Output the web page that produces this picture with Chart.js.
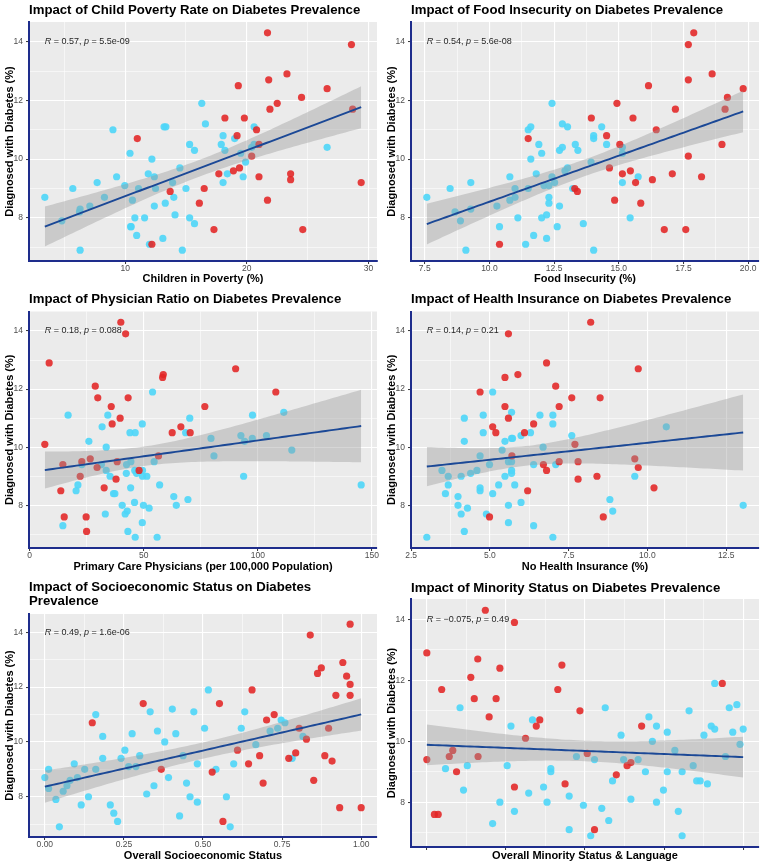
<!DOCTYPE html>
<html><head><meta charset="utf-8">
<script src="https://cdn.jsdelivr.net/npm/chart.js@4.4.1/dist/chart.umd.min.js"></script>
<style>
html,body{margin:0;padding:0;background:#fff;}
body{width:764px;height:866px;position:relative;overflow:hidden;}
.panel{position:absolute;}
</style></head><body>
<div class="panel" style="left:0;top:0;width:382px;height:287px"><canvas id="c1"></canvas></div>
<div class="panel" style="left:382px;top:0;width:382px;height:287px"><canvas id="c2"></canvas></div>
<div class="panel" style="left:0;top:287px;width:382px;height:290px"><canvas id="c3"></canvas></div>
<div class="panel" style="left:382px;top:287px;width:382px;height:290px"><canvas id="c4"></canvas></div>
<div class="panel" style="left:0;top:577px;width:382px;height:289px"><canvas id="c5"></canvas></div>
<div class="panel" style="left:382px;top:577px;width:382px;height:289px"><canvas id="c6"></canvas></div>
<script>
// ---------- DATA ----------
const yTicks = [8, 10, 12, 14];
const yMinor = [7, 9, 11, 13];
const yTickLabels = ['8', '10', '12', '14'];

// Child poverty (%) vs diabetes (%)
const povertyRed = [[21.7,14.3],[28.6,13.9],[23.3,12.9],[21.8,12.7],[19.3,12.5],[26.6,12.4],[24.5,12.1],[22.5,11.9],[21.9,11.7],[28.7,11.7],[18.2,11.4],[19.8,11.4],[11.0,10.7],[19.2,10.8],[20.8,11.0],[21.0,10.5],[20.4,10.1],[17.7,9.5],[18.9,9.6],[19.4,9.7],[21.0,9.4],[23.6,9.5],[23.6,9.3],[29.4,9.2],[16.5,9.0],[13.7,8.9],[16.1,8.5],[21.7,8.6],[17.3,7.6],[24.6,7.6],[12.2,7.1]];
const povertyBlue = [[16.3,11.9],[9.0,11.0],[13.2,11.1],[13.35,11.1],[16.6,11.2],[20.6,11.1],[18.05,10.8],[19.0,10.7],[10.4,10.2],[15.3,10.5],[15.7,10.3],[17.9,10.5],[18.2,10.3],[20.4,10.4],[20.6,10.5],[19.5,10.2],[26.6,10.4],[12.2,10.0],[14.5,9.7],[19.9,9.9],[9.3,9.4],[11.9,9.5],[12.4,9.4],[18.4,9.5],[19.7,9.4],[7.7,9.2],[9.97,9.1],[13.9,9.2],[18.05,9.2],[5.7,9.0],[11.1,9.0],[12.5,9.0],[15.0,9.0],[3.4,8.7],[8.3,8.7],[14.0,8.7],[10.6,8.6],[7.1,8.4],[6.3,8.3],[6.25,8.2],[13.3,8.5],[12.4,8.4],[14.1,8.1],[4.8,7.9],[10.8,8.0],[11.6,8.0],[15.3,8.0],[15.7,7.8],[10.45,7.7],[10.5,7.7],[10.95,7.4],[13.1,7.3],[12.0,7.1],[6.3,6.9],[14.7,6.9]];
const povertyXTicks = [10, 20, 30];
const povertyXMinor = [5, 15, 25];
const povertyXLabels = ['10', '20', '30'];

// Food insecurity (%)
const foodRed = [[17.9,14.3],[17.69,13.9],[18.61,12.9],[17.69,12.7],[16.15,12.5],[19.81,12.4],[19.2,12.1],[14.93,11.9],[17.19,11.7],[19.11,11.7],[13.94,11.4],[15.55,11.4],[16.45,11.0],[11.5,10.7],[14.53,10.8],[15.04,10.5],[18.99,10.5],[17.69,10.1],[14.64,9.7],[15.14,9.5],[15.45,9.6],[17.07,9.5],[18.2,9.4],[16.3,9.3],[15.65,9.2],[13.3,9.0],[13.4,8.9],[14.84,8.6],[15.85,8.5],[16.76,7.6],[17.59,7.6],[10.39,7.1]];
const foodBlue = [[12.42,11.9],[11.5,11.0],[11.6,11.1],[12.82,11.2],[13.02,11.1],[14.34,11.1],[14.03,10.8],[14.03,10.7],[11.91,10.5],[12.82,10.4],[12.71,10.3],[13.32,10.5],[13.42,10.3],[14.53,10.5],[15.14,10.4],[15.14,10.2],[12.02,10.2],[11.6,10.0],[13.93,9.9],[13.02,9.7],[12.92,9.6],[10.79,9.4],[11.81,9.5],[12.42,9.4],[15.75,9.4],[9.28,9.2],[12.11,9.1],[12.3,9.1],[12.52,9.2],[15.14,9.2],[8.48,9.0],[10.99,9.0],[11.5,9.0],[13.22,9.0],[7.58,8.7],[10.99,8.7],[12.3,8.7],[10.79,8.6],[12.3,8.5],[8.67,8.2],[9.28,8.3],[10.29,8.4],[12.71,8.4],[12.21,8.1],[8.88,7.9],[11.1,8.0],[12.02,8.0],[15.44,8.0],[13.63,7.8],[10.39,7.7],[12.62,7.7],[11.71,7.4],[12.21,7.3],[11.4,7.1],[9.09,6.9],[14.03,6.9]];
const foodXTicks = [7.5, 10, 12.5, 15, 17.5, 20];
const foodXMinor = [8.75, 11.25, 13.75, 16.25, 18.75];
const foodXLabels = ['7.5', '10.0', '12.5', '15.0', '17.5', '20.0'];

// Primary care physicians per 100,000
const physicianRed = [[40.0,14.3],[42.1,13.9],[8.6,12.9],[90.3,12.7],[58.6,12.5],[58.3,12.4],[28.8,12.1],[107.9,11.9],[29.9,11.7],[43.2,11.7],[35.8,11.4],[76.8,11.4],[39.7,11.0],[36.2,10.8],[66.3,10.7],[62.5,10.5],[70.4,10.5],[6.7,10.1],[56.5,9.7],[14.6,9.4],[22.9,9.5],[26.6,9.6],[38.4,9.5],[29.6,9.3],[48.0,9.2],[22.2,9.0],[37.9,8.9],[32.7,8.6],[13.7,8.5],[15.2,7.6],[24.8,7.6],[25.0,7.1]];
const physicianBlue = [[53.9,11.9],[16.9,11.1],[34.3,11.1],[97.7,11.1],[111.4,11.2],[70.2,11.0],[49.4,10.8],[31.8,10.7],[44.0,10.5],[46.3,10.5],[68.4,10.5],[26.0,10.2],[79.5,10.3],[92.6,10.4],[94.2,10.2],[97.6,10.3],[103.8,10.4],[33.6,10.0],[114.9,9.9],[80.8,9.7],[22.9,9.4],[31.5,9.4],[44.4,9.5],[54.6,9.5],[42.5,9.4],[33.6,9.2],[46.1,9.2],[49.5,9.2],[42.4,9.1],[46.9,9.1],[35.3,9.0],[49.5,9.0],[51.4,9.0],[93.8,9.0],[21.2,8.7],[57.0,8.7],[145.3,8.7],[20.4,8.5],[44.3,8.6],[36.8,8.4],[37.4,8.4],[63.2,8.3],[69.4,8.2],[46.0,8.1],[40.6,8.0],[49.9,8.0],[64.3,8.0],[52.4,7.9],[42.8,7.8],[33.2,7.7],[41.9,7.7],[49.4,7.4],[14.6,7.3],[43.1,7.1],[46.3,6.9],[55.9,6.9]];
const physicianXTicks = [0, 50, 100, 150];
const physicianXMinor = [25, 75, 125];
const physicianXLabels = ['0', '50', '100', '150'];

// No health insurance (%)
const insuranceRed = [[8.2,14.3],[5.59,13.9],[6.8,12.9],[9.71,12.7],[5.89,12.5],[5.48,12.4],[7.09,12.1],[4.69,11.9],[7.6,11.7],[8.5,11.7],[5.48,11.4],[7.2,11.4],[5.59,11.0],[5.09,10.7],[6.39,10.8],[5.19,10.5],[6.1,10.5],[7.7,10.1],[5.7,9.7],[9.6,9.6],[7.2,9.5],[7.8,9.5],[6.7,9.4],[9.71,9.3],[6.8,9.2],[8.4,9.0],[7.8,8.9],[10.21,8.6],[6.2,8.5],[4.99,7.6],[8.6,7.6]];
const insuranceBlue = [[5.09,11.9],[4.19,11.0],[4.79,11.1],[5.69,11.2],[6.59,11.1],[7.0,11.1],[7.0,10.8],[10.6,10.7],[4.79,10.5],[6.29,10.5],[4.19,10.2],[5.48,10.2],[5.69,10.3],[5.72,10.3],[5.99,10.4],[7.6,10.4],[6.69,10.0],[5.39,9.9],[4.69,9.7],[4.99,9.4],[5.59,9.5],[5.69,9.5],[6.39,9.4],[7.09,9.4],[3.48,9.2],[4.59,9.2],[5.69,9.2],[4.39,9.1],[5.69,9.1],[3.68,9.0],[4.09,9.0],[5.48,9.0],[9.6,9.0],[3.68,8.7],[5.28,8.7],[5.79,8.7],[4.69,8.6],[4.69,8.5],[3.59,8.4],[5.09,8.4],[3.99,8.3],[8.81,8.2],[5.99,8.1],[3.99,8.0],[5.59,8.0],[13.04,8.0],[4.29,7.9],[8.9,7.8],[4.09,7.7],[4.89,7.7],[5.59,7.4],[6.39,7.3],[4.19,7.1],[3.0,6.9],[7.0,6.9]];
const insuranceXTicks = [2.5, 5, 7.5, 10, 12.5];
const insuranceXMinor = [3.75, 6.25, 8.75, 11.25];
const insuranceXLabels = ['2.5', '5.0', '7.5', '10.0', '12.5'];

// Overall socioeconomic status
const sesRed = [[0.965,14.3],[0.839,13.9],[0.942,12.9],[0.874,12.7],[0.862,12.5],[0.954,12.4],[0.965,12.1],[0.655,11.9],[0.92,11.7],[0.965,11.7],[0.311,11.4],[0.552,11.4],[0.725,11.0],[0.150,10.7],[0.701,10.8],[0.804,10.5],[0.897,10.5],[0.827,10.1],[0.609,9.7],[0.679,9.5],[0.885,9.5],[0.793,9.6],[0.771,9.4],[0.908,9.3],[0.644,9.2],[0.368,9.0],[0.529,8.9],[0.850,8.6],[0.690,8.5],[0.563,7.1],[0.932,7.6],[1.0,7.6]];
const sesBlue = [[0.517,11.9],[0.161,11.0],[0.403,11.2],[0.333,11.1],[0.471,11.1],[0.632,11.1],[0.747,10.8],[0.759,10.7],[0.356,10.4],[0.414,10.3],[0.505,10.5],[0.621,10.5],[0.712,10.4],[0.736,10.5],[0.183,10.2],[0.276,10.3],[0.816,10.2],[0.379,10.0],[0.667,9.9],[0.253,9.7],[0.437,9.5],[0.300,9.5],[0.183,9.4],[0.241,9.4],[0.782,9.4],[0.093,9.2],[0.482,9.2],[0.597,9.2],[0.265,9.1],[0.288,9.1],[0.012,9.0],[0.126,9.0],[0.161,9.0],[0.541,9.0],[0.0,8.7],[0.103,8.7],[0.391,8.7],[0.080,8.6],[0.448,8.5],[0.070,8.4],[0.345,8.4],[0.012,8.3],[0.058,8.2],[0.322,8.1],[0.138,8.0],[0.459,8.0],[0.574,8.0],[0.035,7.9],[0.482,7.8],[0.115,7.7],[0.207,7.7],[0.218,7.4],[0.426,7.3],[0.230,7.1],[0.046,6.9],[0.586,6.9]];
const sesXTicks = [0, 0.25, 0.5, 0.75, 1];
const sesXMinor = [0.125, 0.375, 0.625, 0.875];
const sesXLabels = ['0.00', '0.25', '0.50', '0.75', '1.00'];

// Overall minority status & language
const minorityRed = [[0.185,14.3],[0.277,13.9],[0.0,12.9],[0.161,12.7],[0.427,12.5],[0.231,12.4],[0.139,12.1],[0.047,11.7],[0.414,11.7],[0.934,11.9],[0.150,11.4],[0.219,11.4],[0.484,11.0],[0.197,10.8],[0.357,10.7],[0.346,10.5],[0.679,10.5],[0.312,10.1],[0.082,9.7],[0.507,9.6],[0.071,9.5],[0.162,9.5],[0.0,9.4],[0.645,9.3],[0.633,9.2],[0.094,9.0],[0.599,8.9],[0.437,8.6],[0.277,8.5],[0.024,7.6],[0.036,7.6],[0.530,7.1]];
const minorityBlue = [[0.910,11.9],[0.980,11.2],[0.956,11.1],[0.564,11.1],[0.105,11.1],[0.829,11.0],[0.334,10.7],[0.702,10.8],[0.266,10.5],[0.726,10.5],[0.899,10.5],[0.910,10.4],[1.0,10.4],[0.967,10.3],[0.760,10.3],[0.614,10.2],[0.876,10.2],[0.713,10.0],[0.99,9.9],[0.784,9.7],[0.473,9.5],[0.944,9.5],[0.530,9.4],[0.622,9.4],[0.668,9.4],[0.842,9.2],[0.128,9.2],[0.254,9.2],[0.059,9.1],[0.392,9.1],[0.392,9.0],[0.691,9.0],[0.760,9.0],[0.807,9.0],[0.587,8.7],[0.853,8.7],[0.864,8.7],[0.887,8.6],[0.369,8.5],[0.116,8.4],[0.748,8.4],[0.322,8.3],[0.450,8.2],[0.645,8.1],[0.231,8.0],[0.380,8.0],[0.726,8.0],[0.495,7.9],[0.553,7.8],[0.277,7.7],[0.795,7.7],[0.575,7.4],[0.208,7.3],[0.450,7.1],[0.518,6.9],[0.807,6.9]];
const minorityXTicks = [0, 0.25, 0.5, 0.75, 1];
const minorityXMinor = [0.125, 0.375, 0.625, 0.875];
const minorityXLabels = ['', '', '', '', ''];

// Correlation annotations
const corLabels = [
  ['R', ' = 0.57, ', 'p', ' = 5.5e-09'],
  ['R', ' = 0.54, ', 'p', ' = 5.6e-08'],
  ['R', ' = 0.18, ', 'p', ' = 0.088'],
  ['R', ' = 0.14, ', 'p', ' = 0.21'],
  ['R', ' = 0.49, ', 'p', ' = 1.6e-06'],
  ['R', ' = \u22120.075, ', 'p', ' = 0.49']
];

// ---------- STYLE / LAYOUT ----------
const FONT = "'Liberation Sans', Arial, Helvetica, sans-serif";
const RED = 'rgba(226,36,36,0.88)';
const CYAN = 'rgba(78,214,248,0.9)';
const BAND = 'rgba(153,153,153,0.4)';
const FIT = '#1B4896';
const AXIS = '#1E2D8C';
const TITLE_SIZE = 13.2, TITLE_LH = 14;

const panels = [
  {id:'c1', title:['Impact of Child Poverty Rate on Diabetes Prevalence'], xTitle:'Children in Poverty (%)',
   red:povertyRed, blue:povertyBlue, xt:povertyXTicks, xm:povertyXMinor, xl:povertyXLabels, cor:corLabels[0],
   L:{h:287, titleC:10, top:22, bottom:261, xTitleC:279}},
  {id:'c2', title:['Impact of Food Insecurity on Diabetes Prevalence'], xTitle:'Food Insecurity (%)',
   red:foodRed, blue:foodBlue, xt:foodXTicks, xm:foodXMinor, xl:foodXLabels, cor:corLabels[1],
   L:{h:287, titleC:10, top:22, bottom:261, xTitleC:279}},
  {id:'c3', title:['Impact of Physician Ratio on Diabetes Prevalence'], xTitle:'Primary Care Physicians (per 100,000 Population)',
   red:physicianRed, blue:physicianBlue, xt:physicianXTicks, xm:physicianXMinor, xl:physicianXLabels, cor:corLabels[2],
   L:{h:290, titleC:12, top:24.5, bottom:261, xTitleC:280}},
  {id:'c4', title:['Impact of Health Insurance on Diabetes Prevalence'], xTitle:'No Health Insurance (%)',
   red:insuranceRed, blue:insuranceBlue, xt:insuranceXTicks, xm:insuranceXMinor, xl:insuranceXLabels, cor:corLabels[3],
   L:{h:290, titleC:12, top:24.5, bottom:261, xTitleC:280}},
  {id:'c5', title:['Impact of Socioeconomic Status on Diabetes', 'Prevalence'], xTitle:'Overall Socioeconomic Status',
   red:sesRed, blue:sesBlue, xt:sesXTicks, xm:sesXMinor, xl:sesXLabels, cor:corLabels[4],
   L:{h:289, titleC:10.5, top:37, bottom:260, xTitleC:279}},
  {id:'c6', title:['Impact of Minority Status on Diabetes Prevalence'], xTitle:'Overall Minority Status & Language',
   red:minorityRed, blue:minorityBlue, xt:minorityXTicks, xm:minorityXMinor, xl:minorityXLabels, cor:corLabels[5],
   L:{h:289, titleC:11, top:22, bottom:270, xTitleC:279}}
];

// linear model fit with 95% confidence band (as geom_smooth(method = "lm"))
function lmBand(pts) {
  const n = pts.length;
  let sx = 0, sy = 0;
  pts.forEach(p => { sx += p[0]; sy += p[1]; });
  const mx = sx / n, my = sy / n;
  let sxx = 0, sxy = 0;
  pts.forEach(p => { sxx += (p[0] - mx) ** 2; sxy += (p[0] - mx) * (p[1] - my); });
  const b = sxy / sxx, a = my - b * mx;
  let sse = 0;
  pts.forEach(p => { sse += (p[1] - a - b * p[0]) ** 2; });
  const s = Math.sqrt(sse / (n - 2)), t = 1.988;
  const xs = pts.map(p => p[0]);
  const lo = Math.min(...xs), hi = Math.max(...xs);
  const fit = [], up = [], dn = [];
  for (let i = 0; i <= 80; i++) {
    const x = lo + (hi - lo) * i / 80;
    const yv = a + b * x;
    const se = s * Math.sqrt(1 / n + (x - mx) ** 2 / sxx);
    fit.push({x, y: yv}); up.push({x, y: yv + t * se}); dn.push({x, y: yv - t * se});
  }
  return {fit, up, dn, lo, hi};
}

const bgPlugin = {
  id: 'panelBg',
  beforeDraw(chart) {
    const a = chart.chartArea, ctx = chart.ctx;
    ctx.save(); ctx.fillStyle = '#EBEBEB';
    ctx.fillRect(a.left, a.top, a.right - a.left, a.bottom - a.top);
    ctx.restore();
  }
};
const corPlugin = {
  id: 'corLabel',
  afterDatasetsDraw(chart, args, o) {
    if (!o || !o.parts) return;
    const ctx = chart.ctx;
    let x = chart.scales.x.getPixelForValue(o.x);
    const y = chart.scales.y.getPixelForValue(o.y);
    ctx.save(); ctx.textBaseline = 'middle'; ctx.textAlign = 'left'; ctx.fillStyle = '#262626';
    o.parts.forEach((t, i) => {
      ctx.font = (i % 2 === 0 ? 'italic ' : '') + '9px ' + FONT;
      ctx.fillText(t, x, y);
      x += ctx.measureText(t).width;
    });
    ctx.restore();
  }
};
Chart.register(bgPlugin, corPlugin);

function tickList(major, minor) {
  return major.concat(minor).sort((p, q) => p - q).map(v => ({value: v}));
}

panels.forEach(P => {
  const L = P.L;
  const all = P.red.concat(P.blue);
  const band = lmBand(all);
  const ys = all.map(p => p[1]);
  const ymin = Math.min(...ys, ...band.dn.map(d => d.y)), ymax = Math.max(...ys, ...band.up.map(d => d.y));
  const xr = band.hi - band.lo, yr = ymax - ymin;
  const titlePadTop = L.titleC - TITLE_LH / 2;
  const titlePadBottom = L.top - titlePadTop - TITLE_LH * P.title.length;
  const xTitleLH = 11 * 1.2;
  const xTitlePadBottom = L.h - L.xTitleC - xTitleLH / 2;

  new Chart(document.getElementById(P.id), {
    type: 'scatter',
    data: {
      datasets: [
        {label: 'red', data: P.red.map(p => ({x: p[0], y: p[1]})), backgroundColor: RED, borderWidth: 0,
         pointRadius: 3.6, pointHoverRadius: 3.6, order: 4},
        {label: 'blue', data: P.blue.map(p => ({x: p[0], y: p[1]})), backgroundColor: CYAN, borderWidth: 0,
         pointRadius: 3.6, pointHoverRadius: 3.6, order: 5},
        {type: 'line', label: 'upper', data: band.up, borderWidth: 0, pointRadius: 0, fill: '+1',
         backgroundColor: BAND, borderColor: 'rgba(0,0,0,0)', order: 2, tension: 0},
        {type: 'line', label: 'lower', data: band.dn, borderWidth: 0, pointRadius: 0, fill: false,
         borderColor: 'rgba(0,0,0,0)', order: 3, tension: 0},
        {type: 'line', label: 'fit', data: band.fit, borderWidth: 1.9, pointRadius: 0, fill: false,
         borderColor: FIT, order: 1, tension: 0}
      ]
    },
    options: {
      responsive: true, maintainAspectRatio: false, animation: false,
      events: [],
      layout: {padding: {left: 0, right: 5, top: 0, bottom: 0}},
      plugins: {
        legend: {display: false}, tooltip: {enabled: false},
        title: {display: true, text: P.title, align: 'start', fullSize: false, color: '#000',
                font: {family: FONT, size: TITLE_SIZE, weight: 'bold', lineHeight: TITLE_LH / TITLE_SIZE},
                padding: {top: titlePadTop, bottom: titlePadBottom}},
        corLabel: {parts: P.cor, x: band.lo, y: 14}
      },
      scales: {
        x: {
          type: 'linear', min: band.lo - 0.05 * xr, max: band.hi + 0.05 * xr,
          afterBuildTicks: s => { s.ticks = tickList(P.xt, P.xm); },
          afterFit: s => { s.height = L.h - L.bottom; },
          ticks: {autoSkip: false, maxRotation: 0, padding: 0, color: '#4D4D4D',
                  font: {family: FONT, size: 8.5},
                  callback: v => { const i = P.xt.indexOf(v); return i >= 0 ? P.xl[i] : ''; }},
          grid: {color: '#FFFFFF', lineWidth: c => (P.xt.indexOf(c.tick.value) >= 0 ? 1.1 : 0.55),
                 drawTicks: true, tickLength: 3, tickWidth: 1,
                 tickColor: c => (P.xt.indexOf(c.tick.value) >= 0 ? '#333333' : 'rgba(0,0,0,0)')},
          border: {display: true, color: AXIS, width: 2},
          title: {display: true, text: P.xTitle, color: '#000',
                  font: {family: FONT, size: 11, weight: 'bold', lineHeight: 1.2},
                  padding: {top: 0, bottom: xTitlePadBottom}}
        },
        y: {
          type: 'linear', min: ymin - 0.05 * yr, max: ymax + 0.05 * yr,
          afterBuildTicks: s => { s.ticks = tickList(yTicks, yMinor); },
          afterFit: s => { s.width = 29; },
          ticks: {autoSkip: false, padding: 3, color: '#4D4D4D', font: {family: FONT, size: 8.5},
                  callback: v => { const i = yTicks.indexOf(v); return i >= 0 ? yTickLabels[i] : ''; }},
          grid: {color: '#FFFFFF', lineWidth: c => (yTicks.indexOf(c.tick.value) >= 0 ? 1.1 : 0.55),
                 drawTicks: true, tickLength: 3, tickWidth: 1,
                 tickColor: c => (yTicks.indexOf(c.tick.value) >= 0 ? '#333333' : 'rgba(0,0,0,0)')},
          border: {display: true, color: AXIS, width: 2},
          title: {display: true, text: 'Diagnosed with Diabetes (%)', color: '#000',
                  font: {family: FONT, size: 11, weight: 'bold', lineHeight: 1.2},
                  padding: {top: 3.4, bottom: 0}}
        }
      }
    }
  });
});
</script>
</body></html>
